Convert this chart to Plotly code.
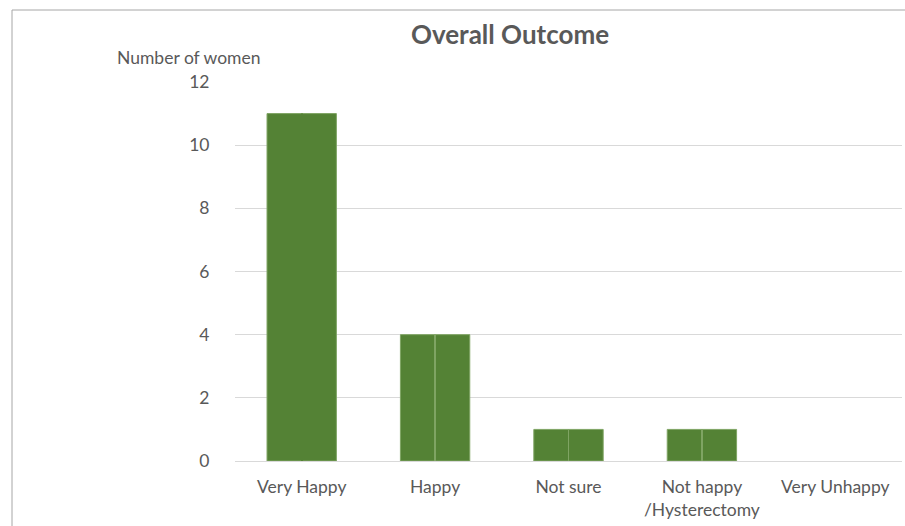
import plotly.graph_objects as go

categories = ["Very Happy", "Happy", "Not sure", "Not happy<br>/Hysterectomy", "Very Unhappy"]
values = [11, 4, 1, 1, 0]
y_ticks = [0, 2, 4, 6, 8, 10, 12]

fill = "#548235"
edge = "#7fa463"
divider_colors = [fill, edge, edge, edge, edge]
edge_widths = [1 if v > 0 else 0 for v in values]
gray = "#595959"
font_family = "Lato, 'Open Sans', sans-serif"

fig = go.Figure()
fig.add_trace(go.Bar(
    x=categories, y=values, width=0.52,
    marker=dict(color=fill, line=dict(color=edge, width=edge_widths)),
    hoverinfo="x+y",
))
fig.add_trace(go.Bar(
    x=categories, y=values, width=0.006,
    marker=dict(color=divider_colors, line=dict(width=0)),
    hoverinfo="skip",
))

W, H = 905, 526
L, R, T, B = 235, 3, 82, 65
pw = W - L - R
ph = H - T - B

def px_to_paper_x(px):
    return (px - L) / pw

def px_to_paper_y(py):
    return (H - B - py) / ph

fig.update_layout(
    width=W, height=H,
    margin=dict(l=L, r=R, t=T, b=B, pad=0),
    barmode="overlay",
    showlegend=False,
    plot_bgcolor="white",
    paper_bgcolor="white",
    font=dict(family=font_family, color=gray),
    title=dict(
        text="<b>Overall Outcome</b>",
        x=510 / W, xref="container", xanchor="center",
        y=1 - 35 / H, yref="container", yanchor="middle",
        font=dict(size=26, color=gray, family=font_family),
    ),
    xaxis=dict(
        type="category",
        showgrid=False,
        showline=False,
        ticks="outside", ticklen=10, tickcolor="rgba(0,0,0,0)",
        tickfont=dict(size=17.5, color=gray),
        zeroline=False,
        fixedrange=True,
    ),
    yaxis=dict(
        range=[0, 12],
        tickvals=y_ticks,
        showgrid=True, gridcolor="#d9d9d9", gridwidth=1,
        zeroline=True, zerolinecolor="#d9d9d9", zerolinewidth=1,
        showline=False,
        ticks="outside", ticklen=21, tickcolor="rgba(0,0,0,0)",
        tickfont=dict(size=17.5, color=gray),
        fixedrange=True,
    ),
    annotations=[dict(
        text="Number of women",
        xref="paper", yref="paper",
        x=px_to_paper_x(188), y=px_to_paper_y(57),
        xanchor="center", yanchor="middle",
        showarrow=False,
        font=dict(size=17.5, color=gray, family=font_family),
    )],
    shapes=[dict(
        type="rect", xref="paper", yref="paper",
        x0=px_to_paper_x(12), x1=px_to_paper_x(920),
        y0=px_to_paper_y(540), y1=px_to_paper_y(10),
        line=dict(color="#a6a6a6", width=1),
        fillcolor="rgba(0,0,0,0)", layer="below",
    )],
)

fig.write_html("out.html")
